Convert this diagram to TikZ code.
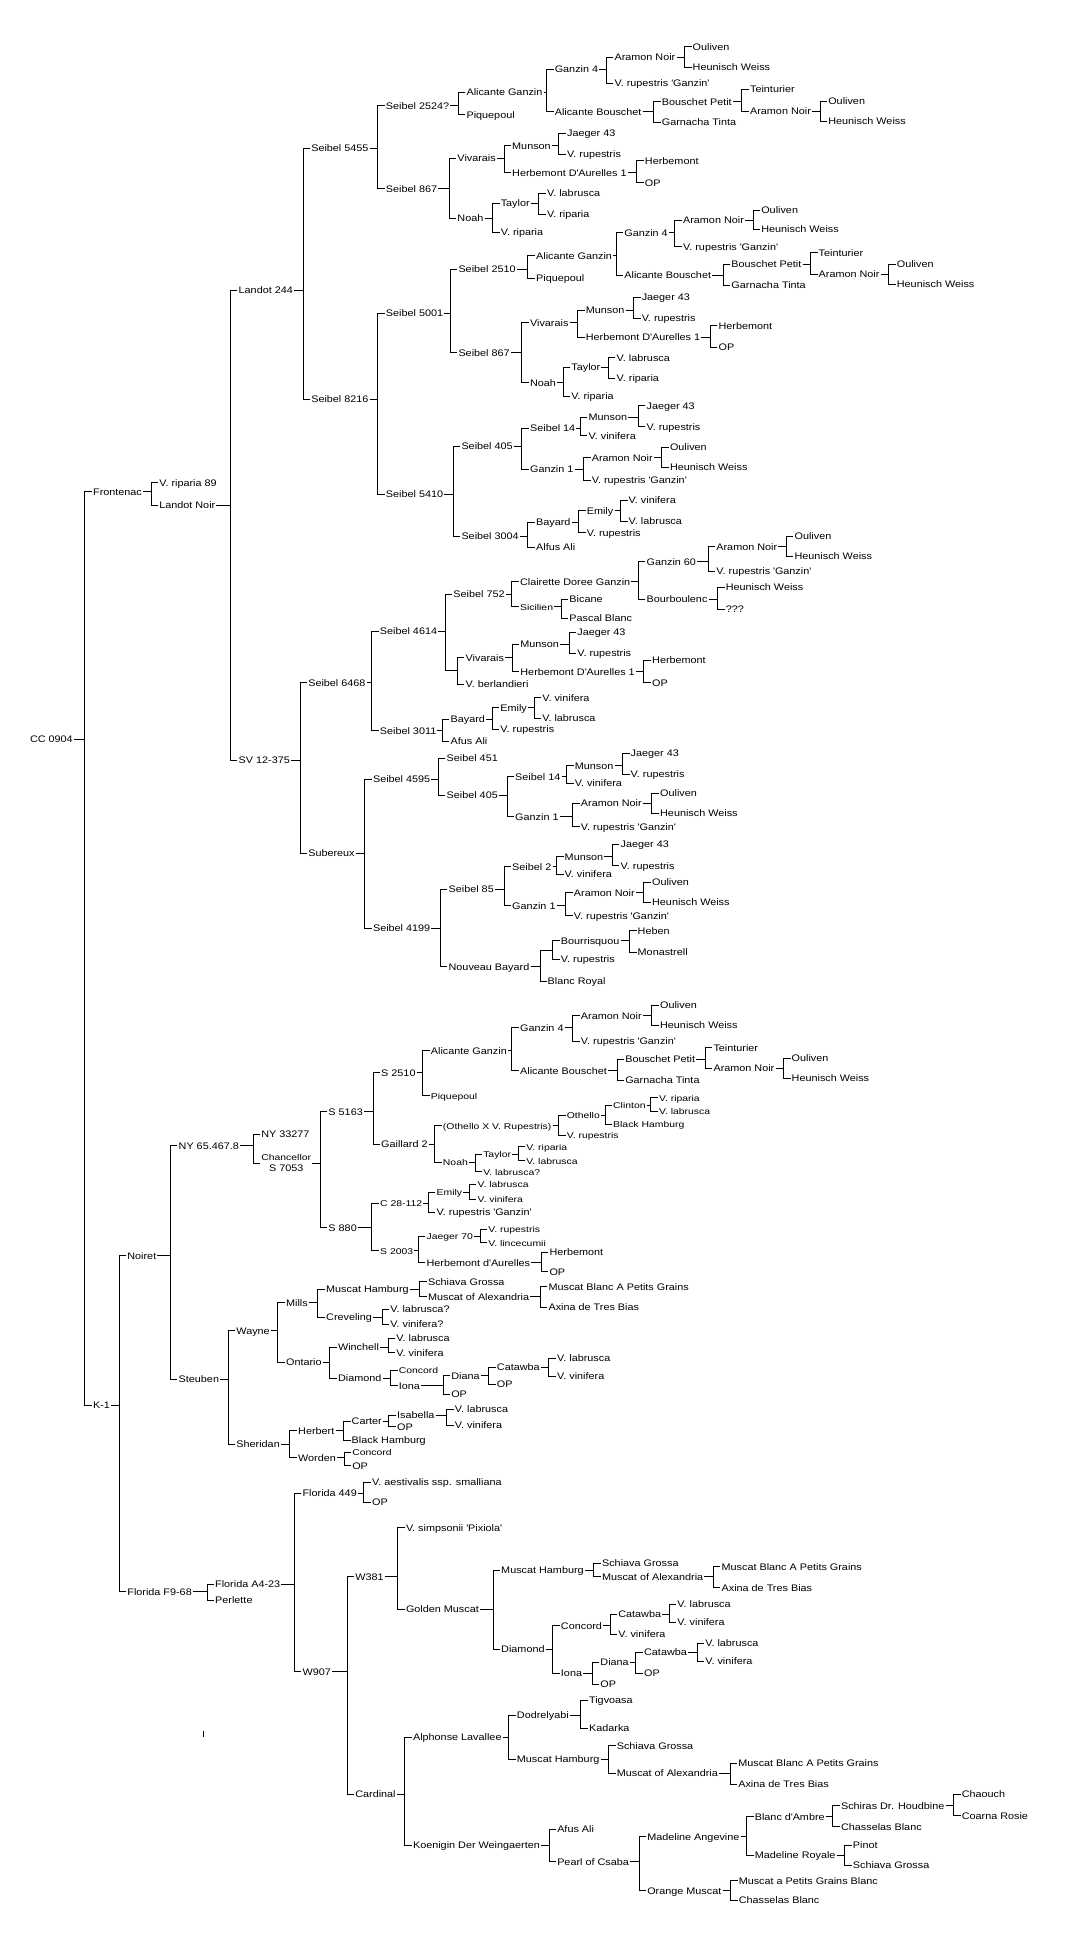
\documentclass[tikz,border=0pt]{standalone}
\usepackage{fontspec}
\setmainfont{Liberation Sans}[FakeStretch=1.14]
\newfontfamily\smfam{Liberation Sans}[FakeStretch=1.24]
\newcommand\nf{\fontsize{9.5}{11}\selectfont}
\newcommand\sm{\smfam\fontsize{8.4}{9.6}\selectfont}
\newcommand\q{\textquotesingle}
\usetikzlibrary{calc}
\tikzset{
  lbl/.style={anchor=west, inner xsep=1pt, inner ysep=0pt, text height=6.8pt, text depth=0pt, font=\nf},
  chn/.style={anchor=west, inner xsep=1pt, inner ysep=0pt, align=center, font=\nf},
  jn/.style={inner sep=0pt, minimum size=0pt},
  link/.style={line width=1pt}
}
% #1 gap, #2 parent, #3 child1, #4 Y1, #5 text1, #6 child2, #7 Y2, #8 text2
\newcommand{\B}[8][9]{%
  \path let \p1=(#2.east) in
    node[lbl] (#3) at (\x1+#1pt+6pt,-#4pt) {#5}
    node[lbl] (#6) at (\x1+#1pt+6pt,-#7pt) {#8};
  \draw[link] (#3.west) -- ++(-7pt,0) |- (#6.west);
  \draw[link] (#2.east) -- ++(#1pt-1pt,0);
}
\begin{document}
\begin{tikzpicture}
\useasboundingbox (0,0) rectangle (1071pt,-1937pt);
\fill[white] (0,0) rectangle (1071pt,-1937pt);

\node[lbl] (cc) at (28.8pt,-739.3pt) {CC 0904};
\B[12]{cc}{fr}{491.7}{Frontenac}{k1}{1405}{K-1}

% ---------------- Frontenac
\B{fr}{vr89}{482.7}{V. riparia 89}{ln}{505}{Landot Noir}
\B[15]{ln}{l244}{290.3}{Landot 244}{sv}{760}{SV 12-375}
\B[10]{l244}{s5455}{148.3}{Seibel 5455}{s8216}{399.3}{Seibel 8216}
\B{s5455}{s2524}{105.7}{Seibel 2524?}{s867a}{189}{Seibel 867}
\B{s2524}{agA}{92.3}{Alicante Ganzin}{ppA}{115}{Piquepoul}
\B[4]{agA}{g4A}{69.3}{Ganzin 4}{abA}{112}{Alicante Bouschet}
\B[8]{g4A}{anA}{57.3}{Aramon Noir}{vrgA}{83.3}{V. rupestris {\q}Ganzin{\q}}
\B{anA}{olA}{47}{Ouliven}{hwA}{67.3}{Heunisch Weiss}
\B[12]{abA}{bpA}{101.7}{Bouschet Petit}{gtA}{122.3}{Garnacha Tinta}
\B[10]{bpA}{teA}{89.3}{Teinturier}{an2A}{111.3}{Aramon Noir}
\B{an2A}{ol2A}{101.3}{Ouliven}{hw2A}{121.3}{Heunisch Weiss}
\B[12]{s867a}{vivA}{158.3}{Vivarais}{noA}{218.3}{Noah}
\B[8]{vivA}{muA}{145.7}{Munson}{hdA}{172.7}{Herbemont D{\q}Aurelles 1}
\B[8]{muA}{j43A}{133.3}{Jaeger 43}{vrA}{154.3}{V. rupestris}
\B[10]{hdA}{hbA}{161}{Herbemont}{opA}{182.7}{OP}
\B[9]{noA}{tyA}{203.3}{Taylor}{vrpA}{232.3}{V. riparia}
\B[9]{tyA}{vlA}{193.3}{V. labrusca}{vrp2A}{214.3}{V. riparia}

\B{s8216}{s5001}{313.3}{Seibel 5001}{s5410}{494.3}{Seibel 5410}
\B[7]{s5001}{s2510}{269.3}{Seibel 2510}{s867b}{352.7}{Seibel 867}
\B[12]{s2510}{agB}{255.7}{Alicante Ganzin}{ppB}{278.3}{Piquepoul}
\B[4]{agB}{g4B}{232.7}{Ganzin 4}{abB}{275}{Alicante Bouschet}
\B[7]{g4B}{anB}{220}{Aramon Noir}{vrgB}{246.7}{V. rupestris {\q}Ganzin{\q}}
\B[9]{anB}{olB}{210}{Ouliven}{hwB}{229}{Heunisch Weiss}
\B[12]{abB}{bpB}{264.3}{Bouschet Petit}{gtB}{285}{Garnacha Tinta}
\B[9]{bpB}{teB}{252.7}{Teinturier}{an2B}{274.3}{Aramon Noir}
\B[9]{an2B}{ol2B}{264.3}{Ouliven}{hw2B}{284.3}{Heunisch Weiss}
\B[12]{s867b}{vivB}{322.7}{Vivarais}{noB}{382.7}{Noah}
\B[9]{vivB}{muB}{310}{Munson}{hdB}{337.3}{Herbemont D{\q}Aurelles 1}
\B[9]{muB}{j43B}{297.3}{Jaeger 43}{vrB}{318.3}{V. rupestris}
\B[10]{hdB}{hbB}{325.7}{Herbemont}{opB}{347.3}{OP}
\B[7]{noB}{tyB}{367.3}{Taylor}{vrpB}{396}{V. riparia}
\B[8]{tyB}{vlB}{357.7}{V. labrusca}{vrp2B}{378.3}{V. riparia}

\B[10]{s5410}{s405A}{446}{Seibel 405}{s3004}{536}{Seibel 3004}
\B[9]{s405A}{s14A}{428.3}{Seibel 14}{gz1A}{469.3}{Ganzin 1}
\B[5]{s14A}{muC}{417.3}{Munson}{vvC}{435.7}{V. vinifera}
\B[11]{muC}{j43C}{405.7}{Jaeger 43}{vrC}{426.7}{V. rupestris}
\B[10]{gz1A}{anC}{457.7}{Aramon Noir}{vrgC}{480}{V. rupestris {\q}Ganzin{\q}}
\B[9]{anC}{olC}{447.3}{Ouliven}{hwC}{467.3}{Heunisch Weiss}
\B[9]{s3004}{bayA}{522}{Bayard}{afA}{547.3}{Alfus Ali}
\B[8]{bayA}{emA}{510.7}{Emily}{vrD}{532.7}{V. rupestris}
\B[7]{emA}{vvD}{500}{V. vinifera}{vlD}{521}{V. labrusca}

% ---------------- SV 12-375
\B[10]{sv}{s6468}{682.7}{Seibel 6468}{sub}{853.3}{Subereux}
\B[6]{s6468}{s4614}{631}{Seibel 4614}{s3011}{730.7}{Seibel 3011}
\path let \p1=(s4614.east) in
  node[lbl] (s752) at (\x1+14pt,-594.3pt) {Seibel 752}
  node[jn] (j1) at (\x1+19pt,-670pt) {};
\draw[link] (s752.west) -- ++(-7pt,0) |- (j1);
\draw[link] (s4614.east) -- ++(7pt,0);
\B[1]{j1}{vivC}{657.7}{Vivarais}{vb}{684}{V. berlandieri}
\B[7]{s752}{cdg}{581.7}{Clairette Doree Ganzin}{sic}{606.7}{\sm Sicilien}
\B[8]{cdg}{g60}{561.7}{Ganzin 60}{bou}{599.3}{Bourboulenc}
\B[12]{g60}{anD}{546.7}{Aramon Noir}{vrgD}{571}{V. rupestris {\q}Ganzin{\q}}
\B[9]{anD}{olD}{536}{Ouliven}{hwD}{556}{Heunisch Weiss}
\B[10]{bou}{hwE}{587}{Heunisch Weiss}{qq}{609.3}{???}
\B[8]{sic}{bic}{599.3}{Bicane}{pb}{618.3}{Pascal Blanc}
\B[8]{vivC}{muD}{644.3}{Munson}{hdC}{671.7}{Herbemont D{\q}Aurelles 1}
\B[10]{muD}{j43D}{632.3}{Jaeger 43}{vrE}{653.3}{V. rupestris}
\B[9]{hdC}{hbC}{660}{Herbemont}{opC}{682.7}{OP}
\B[6]{s3011}{bayB}{719.3}{Bayard}{afB}{741}{Afus Ali}
\B[7]{bayB}{emB}{707.7}{Emily}{vrF}{729.3}{V. rupestris}
\B[7]{emB}{vvE}{697.7}{V. vinifera}{vlE}{718.3}{V. labrusca}

\B[10]{sub}{s4595}{779.3}{Seibel 4595}{s4199}{928.3}{Seibel 4199}
\B[8]{s4595}{s451}{758.3}{Seibel 451}{s405B}{795}{Seibel 405}
\B[9]{s405B}{s14B}{776.7}{Seibel 14}{gz1B}{816.7}{Ganzin 1}
\B[6]{s14B}{muE}{765.7}{Munson}{vvF}{783.3}{V. vinifera}
\B[9]{muE}{j43E}{753.3}{Jaeger 43}{vrG}{774.3}{V. rupestris}
\B[14]{gz1B}{anE}{803.3}{Aramon Noir}{vrgE}{826.7}{V. rupestris {\q}Ganzin{\q}}
\B[10]{anE}{olE}{793.3}{Ouliven}{hwF}{813.3}{Heunisch Weiss}
\B[10]{s4199}{s85}{889.3}{Seibel 85}{nb}{966.7}{Nouveau Bayard}
\B[10]{s85}{s2}{866.7}{Seibel 2}{gz1C}{905.7}{Ganzin 1}
\B[5]{s2}{muF}{856.7}{Munson}{vvG}{874.3}{V. vinifera}
\B[9]{muF}{j43F}{844.3}{Jaeger 43}{vrH}{865.7}{V. rupestris}
\B[10]{gz1C}{anF}{892.7}{Aramon Noir}{vrgF}{915.7}{V. rupestris {\q}Ganzin{\q}}
\B[9]{anF}{olF}{882.3}{Ouliven}{hwG}{902.3}{Heunisch Weiss}
\path let \p1=(nb.east) in
  node[jn] (j2) at (\x1+22pt,-950pt) {}
  node[lbl] (br) at (\x1+16pt,-981pt) {Blanc Royal};
\draw[link] (br.west) -- ++(-6pt,0) |- (j2);
\draw[link] (nb.east) -- ++(10pt,0);
\B[1]{j2}{bq}{940.7}{Bourrisquou}{vrI}{959.3}{V. rupestris}
\B[10]{bq}{heb}{930.7}{Heben}{mon}{952.3}{Monastrell}

% ---------------- K-1
\B[9]{k1}{noi}{1255.7}{Noiret}{ff}{1591.7}{Florida F9-68}
\B[14]{noi}{ny65}{1145.7}{NY 65.467.8}{steu}{1379.3}{Steuben}
\path let \p1=(ny65.east) in
  node[lbl] (ny33) at (\x1+20pt,-1134pt) {NY 33277}
  node[chn] (chan) at (\x1+20pt,-1163.3pt) {{\sm Chancellor}\\S 7053};
\draw[link] (ny33.west) -- ++(-7pt,0) |- (chan.west);
\draw[link] (ny65.east) -- ++(13pt,0);
\B[9]{chan}{s5163}{1111.7}{S 5163}{s880}{1227.7}{S 880}
\B[10]{s5163}{s2510b}{1072.7}{S 2510}{gai}{1144.3}{Gaillard 2}
\B[7]{s2510b}{agC}{1050.7}{Alicante Ganzin}{ppC}{1095.7}{\sm Piquepoul}
\B[5]{agC}{g4C}{1027.7}{Ganzin 4}{abC}{1070.7}{Alicante Bouschet}
\B[9]{g4C}{anG}{1015.7}{Aramon Noir}{vrgG}{1041}{V. rupestris {\q}Ganzin{\q}}
\B[10]{anG}{olG}{1005}{Ouliven}{hwH}{1025}{Heunisch Weiss}
\B[10]{abC}{bpC}{1059.3}{Bouschet Petit}{gtC}{1080}{Garnacha Tinta}
\B[10]{bpC}{teC}{1047.7}{Teinturier}{an2C}{1068.3}{Aramon Noir}
\B[9]{an2C}{ol2C}{1058.3}{Ouliven}{hw2C}{1078.3}{Heunisch Weiss}
\B[7]{gai}{oxr}{1125.7}{\sm (Othello X V. Rupestris)}{noC}{1162.3}{\sm Noah}
\B[7]{oxr}{oth}{1115}{\sm Othello}{vrJ}{1135.3}{\sm V. rupestris}
\B[5]{oth}{cli}{1105}{\sm Clinton}{bh}{1124}{\sm Black Hamburg}
\B[5]{cli}{vrpC}{1097.7}{\sm V. riparia}{vlF}{1111}{\sm V. labrusca}
\B[7]{noC}{tyC}{1154}{\sm Taylor}{vlq}{1171.7}{\sm V. labrusca?}
\B[7]{tyC}{vrpD}{1146.7}{\sm V. riparia}{vlG}{1160.7}{\sm V. labrusca}
\B[15]{s880}{c28}{1203.3}{\sm C 28-112}{s2003}{1250.7}{\sm S 2003}
\B[6]{c28}{emC}{1192.3}{\sm Emily}{vrgH}{1212.3}{V. rupestris {\q}Ganzin{\q}}
\B[7]{emC}{vlH}{1184.3}{\sm V. labrusca}{vvH}{1199.3}{\sm V. vinifera}
\B[5]{s2003}{j70}{1236}{\sm Jaeger 70}{hdD}{1262.7}{Herbemont d{\q}Aurelles}
\B[7]{j70}{vrK}{1229}{\sm V. rupestris}{vli}{1242.7}{\sm V. lincecumii}
\B[11]{hdD}{hbD}{1252.3}{Herbemont}{opD}{1271.7}{OP}

\B[9]{steu}{way}{1330.7}{Wayne}{sher}{1444.3}{Sheridan}
\B[8]{way}{mil}{1302.7}{Mills}{ont}{1362.3}{Ontario}
\B[10]{mil}{mhA}{1289}{Muscat Hamburg}{crv}{1317.3}{Creveling}
\B[11]{mhA}{sgA}{1281.7}{Schiava Grossa}{moaA}{1296.7}{Muscat of Alexandria}
\B[11]{moaA}{mbA}{1286.7}{Muscat Blanc A Petits Grains}{axA}{1307.3}{Axina de Tres Bias}
\B[10]{crv}{vlqB}{1309.3}{V. labrusca?}{vvq}{1324}{V. vinifera?}
\B[8]{ont}{win}{1347.3}{Winchell}{diaA}{1378.3}{Diamond}
\B[9]{win}{vlI}{1338}{V. labrusca}{vvI}{1352.7}{V. vinifera}
\B[9]{diaA}{conA}{1370}{\sm Concord}{ionA}{1385.7}{Iona}
\B[23]{ionA}{dnA}{1375.7}{Diana}{opE}{1394.3}{OP}
\B[9]{dnA}{catA}{1367.3}{Catawba}{opF}{1384.3}{OP}
\B[9]{catA}{vlJ}{1358.3}{V. labrusca}{vvJ}{1376}{V. vinifera}
\B[10]{sher}{her}{1430.7}{Herbert}{word}{1457.7}{Worden}
\B[9]{her}{car}{1421}{Carter}{bhB}{1440}{Black Hamburg}
\B[7]{car}{isa}{1415}{Isabella}{opG}{1426.7}{OP}
\B[12]{isa}{vlK}{1409}{V. labrusca}{vvK}{1425}{V. vinifera}
\B[8]{word}{conB}{1452.3}{\sm Concord}{opH}{1465.7}{OP}

\B[15]{ff}{fa4}{1584.3}{Florida A4-23}{per}{1600}{Perlette}
\B[14]{fa4}{f449}{1493.3}{Florida 449}{w907}{1671.7}{W907}
\B[7]{f449}{vae}{1482.3}{V. aestivalis ssp. smalliana}{opI}{1502.3}{OP}
\B[16]{w907}{w381}{1576.7}{W381}{card}{1794.3}{Cardinal}
\B[14]{w381}{vsp}{1527.7}{V. simpsonii {\q}Pixiola{\q}}{gm}{1609.3}{Golden Muscat}
\B[14]{gm}{mhB}{1570}{Muscat Hamburg}{diaB}{1649.3}{Diamond}
\B[10]{mhB}{sgB}{1563.3}{Schiava Grossa}{moaB}{1576.7}{Muscat of Alexandria}
\B[10]{moaB}{mbB}{1566.7}{Muscat Blanc A Petits Grains}{axB}{1587.7}{Axina de Tres Bias}
\B[8]{diaB}{conC}{1625.7}{Concord}{ionB}{1673.3}{Iona}
\B[8]{conC}{catB}{1614}{Catawba}{vvL}{1634.3}{V. vinifera}
\B[8]{catB}{vlL}{1604.3}{V. labrusca}{vvM}{1622.3}{V. vinifera}
\B[10]{ionB}{dnB}{1662.3}{Diana}{opJ}{1684.3}{OP}
\B[7]{dnB}{catC}{1652.3}{Catawba}{opK}{1673.3}{OP}
\B[10]{catC}{vlM}{1643.3}{V. labrusca}{vvN}{1661}{V. vinifera}
\B[9]{card}{alp}{1737.3}{Alphonse Lavallee}{koe}{1845}{Koenigin Der Weingaerten}
\B[7]{alp}{dod}{1715}{Dodrelyabi}{mhC}{1759}{Muscat Hamburg}
\B[12]{dod}{tig}{1700}{Tigvoasa}{kad}{1728.3}{Kadarka}
\B[9]{mhC}{sgC}{1745.7}{Schiava Grossa}{moaC}{1773.3}{Muscat of Alexandria}
\B[12]{moaC}{mbC}{1763.3}{Muscat Blanc A Petits Grains}{axC}{1784.3}{Axina de Tres Bias}
\B[9]{koe}{afC}{1829.3}{Afus Ali}{poc}{1861.7}{Pearl of Csaba}
\B[10]{poc}{mad}{1836.7}{Madeline Angevine}{om}{1890.7}{Orange Muscat}
\B[7]{mad}{bda}{1816.7}{Blanc d{\q}Ambre}{mr}{1855}{Madeline Royale}
\B[8]{bda}{sch}{1805.7}{Schiras Dr. Houdbine}{cbA}{1826.7}{Chasselas Blanc}
\B[9]{sch}{cha}{1794.3}{Chaouch}{cr}{1815.7}{Coarna Rosie}
\B[9]{mr}{pin}{1845}{Pinot}{sgD}{1865}{Schiava Grossa}
\B[9]{om}{mpg}{1880.7}{Muscat a Petits Grains Blanc}{cbB}{1900}{Chasselas Blanc}

% stray tick
\draw[link] (203pt,-1731pt) -- (203pt,-1737pt);
\end{tikzpicture}
\end{document}
